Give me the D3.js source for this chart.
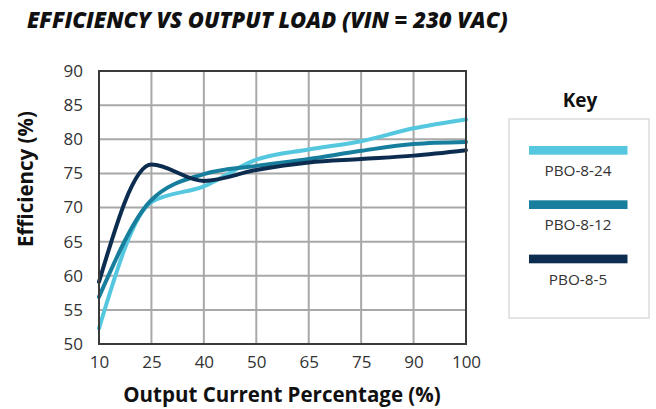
<!DOCTYPE html>
<html>
<head>
<meta charset="utf-8">
<script src="https://cdn.jsdelivr.net/npm/d3@7"></script>
<style>
  body { margin: 0; background: #fff; }
  text { font-family: "Open Sans", "DejaVu Sans", sans-serif; }
</style>
</head>
<body>
<svg id="svg" width="656" height="409"></svg>
<script>
// data
const loads = ['10', '25', '40', '50', '65', '75', '90', '100'];
const yTicks = [50, 55, 60, 65, 70, 75, 80, 85, 90];
const pbo824 = [52.3, 70.8, 73.1, 77.0, 78.5, 79.7, 81.6, 82.9];
const pbo812 = [56.9, 71.1, 74.9, 76.1, 77.1, 78.3, 79.3, 79.6];
const pbo85 = [59.1, 76.3, 73.9, 75.5, 76.6, 77.1, 77.6, 78.4];
const seriesNames = ['PBO-8-24', 'PBO-8-12', 'PBO-8-5'];
const seriesColors = ['#55c8e0', '#177f9d', '#0d2d50'];

const series = [pbo824, pbo812, pbo85].map((vals, i) => ({
  name: seriesNames[i], color: seriesColors[i],
  points: vals.map((v, j) => ({ x: loads[j], y: v }))
}));

const svg = d3.select('#svg');

// plot area
const pLeft = 99, pRight = 466, pTop = 71, pBottom = 344;

const x = d3.scalePoint().domain(loads).range([pLeft, pRight]);
const y = d3.scaleLinear().domain([50, 90]).range([pBottom, pTop]);

// title
svg.append('text')
  .attr('x', 27).attr('y', 28)
  .attr('font-size', 22).attr('font-weight', 800).attr('font-style', 'italic')
  .attr('fill', '#111')
  .text('EFFICIENCY VS OUTPUT LOAD (VIN = 230 VAC)');

// grid
const grid = svg.append('g').attr('stroke', '#a8a8a8').attr('stroke-width', 2);
grid.selectAll('.v').data(loads.slice(1, -1)).enter().append('line')
  .attr('x1', d => x(d)).attr('x2', d => x(d))
  .attr('y1', pTop).attr('y2', pBottom);
grid.selectAll('.h').data(yTicks.slice(1, -1)).enter().append('line')
  .attr('x1', pLeft).attr('x2', pRight)
  .attr('y1', d => y(d)).attr('y2', d => y(d));

// lines
const line = d3.line()
  .x(d => x(d.x))
  .y(d => y(d.y))
  .curve(d3.curveMonotoneX);

svg.append('g').selectAll('path')
  .data(series)
  .enter()
  .append('path')
  .attr('d', d => line(d.points))
  .attr('fill', 'none')
  .attr('stroke', d => d.color)
  .attr('stroke-width', 4)
  .attr('stroke-linecap', 'round');

// frame
svg.append('rect')
  .attr('x', pLeft).attr('y', pTop)
  .attr('width', pRight - pLeft).attr('height', pBottom - pTop)
  .attr('fill', 'none').attr('stroke', '#3a3a3a').attr('stroke-width', 2);

// axes
const xAxis = svg.append('g')
  .attr('transform', `translate(0,${pBottom})`)
  .call(d3.axisBottom(x).tickSize(0).tickPadding(12));
const yAxis = svg.append('g')
  .attr('transform', `translate(${pLeft},0)`)
  .call(d3.axisLeft(y).tickValues(yTicks).tickSize(0).tickPadding(16));
[xAxis, yAxis].forEach(a => {
  a.select('.domain').remove();
  a.selectAll('text')
    .attr('font-size', 17)
    .attr('fill', '#333')
    .style('font-family', '"Open Sans", sans-serif');
});

// axis titles
svg.append('text')
  .attr('x', 282).attr('y', 402)
  .attr('text-anchor', 'middle')
  .attr('font-size', 20.5).attr('font-weight', 700).attr('fill', '#111')
  .text('Output Current Percentage (%)');

svg.append('text')
  .attr('transform', 'translate(33,179) rotate(-90)')
  .attr('text-anchor', 'middle')
  .attr('font-size', 20.5).attr('font-weight', 700).attr('fill', '#111')
  .text('Efficiency (%)');

// legend
svg.append('text')
  .attr('x', 580).attr('y', 107)
  .attr('text-anchor', 'middle')
  .attr('font-size', 19).attr('font-weight', 700).attr('fill', '#111')
  .text('Key');

svg.append('rect')
  .attr('x', 509).attr('y', 119)
  .attr('width', 140).attr('height', 199)
  .attr('fill', 'none').attr('stroke', '#dcdcdc').attr('stroke-width', 1.5);

const legend = svg.append('g').selectAll('g')
  .data(series)
  .enter()
  .append('g')
  .attr('transform', (d, i) => `translate(0,${146 + i * 54.3})`);

legend.append('rect')
  .attr('x', 529).attr('y', 0)
  .attr('width', 98.5).attr('height', 8.7)
  .attr('fill', d => d.color);

legend.append('text')
  .attr('x', 578).attr('y', 30)
  .attr('text-anchor', 'middle')
  .attr('font-size', 15.3).attr('fill', '#333')
  .text(d => d.name);
</script>
</body>
</html>
